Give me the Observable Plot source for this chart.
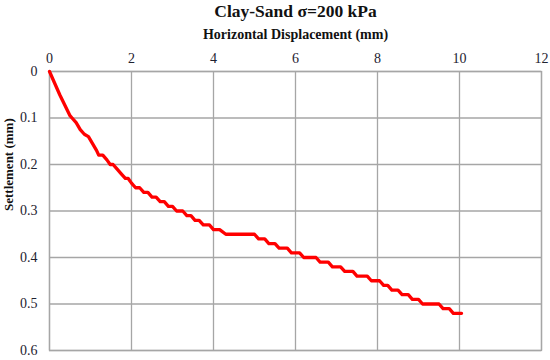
<!DOCTYPE html>
<html><head><meta charset="utf-8">
<script src="https://cdn.jsdelivr.net/npm/d3@7"></script>
<script src="https://cdn.jsdelivr.net/npm/@observablehq/plot@0.6"></script>
<style>body{margin:0;background:#fff;} svg{display:block;}</style>
</head><body><div id="chart"></div>
<script>
const title = "Clay-Sand σ=200 kPa";
const xLabel = "Horizontal Displacement (mm)";
const yLabel = "Settlement (mm)";
const xTicks = [0, 2, 4, 6, 8, 10, 12];
const yTicks = [0, 0.1, 0.2, 0.3, 0.4, 0.5, 0.6];
const displacement = [0,0.25,0.5,0.55,0.65,0.75,0.85,0.95,1.05,1.15,1.2,1.3,1.4,1.48,1.55,1.65,1.75,1.85,1.92,2.0,2.1,2.2,2.3,2.4,2.5,2.6,2.7,2.8,2.9,3.0,3.1,3.25,3.35,3.45,3.55,3.65,3.75,3.9,4.0,4.15,4.3,5.0,5.1,5.25,5.35,5.5,5.6,5.8,5.9,6.1,6.2,6.5,6.6,6.8,6.9,7.1,7.2,7.4,7.5,7.75,7.85,8.05,8.15,8.25,8.35,8.5,8.6,8.75,8.85,9.0,9.1,9.5,9.6,9.75,9.85,10.05];
const settlement = [0,0.05,0.095,0.10,0.11,0.125,0.135,0.14,0.155,0.17,0.18,0.18,0.19,0.20,0.20,0.21,0.22,0.23,0.23,0.24,0.25,0.25,0.26,0.26,0.27,0.27,0.28,0.28,0.29,0.29,0.30,0.30,0.31,0.31,0.32,0.32,0.33,0.33,0.34,0.34,0.35,0.35,0.36,0.36,0.37,0.37,0.38,0.38,0.39,0.39,0.40,0.40,0.41,0.41,0.42,0.42,0.43,0.43,0.44,0.44,0.45,0.45,0.46,0.46,0.47,0.47,0.48,0.48,0.49,0.49,0.50,0.50,0.51,0.51,0.52,0.52];

const data = displacement.map((x, i) => ({x, y: settlement[i]}));
const font = "'Liberation Serif', 'Times New Roman', serif";
const grid = "#a6a6a6";

const plot = Plot.plot({
  width: 550, height: 360,
  marginTop: 71, marginBottom: 10, marginLeft: 49, marginRight: 9,
  style: {fontFamily: font, fontSize: "14px", color: "#1e2230", background: "#fff"},
  x: {domain: [0, 12]},
  y: {domain: [0, 0.6], reverse: true},
  marks: [
    Plot.gridX(xTicks, {stroke: grid, strokeOpacity: 1, strokeWidth: 1.3}),
    Plot.gridY(yTicks, {stroke: grid, strokeOpacity: 1, strokeWidth: 1.3}),
    Plot.frame({stroke: grid, strokeWidth: 1.3}),
    Plot.axisX(xTicks, {anchor: "top", tickSize: 0, tickPadding: 9, fontSize: 14, label: null}),
    Plot.axisY(yTicks, {anchor: "left", tickSize: 0, tickPadding: 12, fontSize: 14, label: null, tickFormat: d => String(d)}),
    Plot.line(data, {x: "x", y: "y", stroke: "#ff0000", strokeWidth: 3.3, strokeLinejoin: "round", strokeLinecap: "round"}),
    Plot.text([title], {frameAnchor: "top", dy: -67, fontSize: 17.5, fontWeight: "bold", fill: "#111"}),
    Plot.text([xLabel], {frameAnchor: "top", dy: -42, fontSize: 14, fontWeight: "bold", fill: "#111"}),
    Plot.text([yLabel], {frameAnchor: "left", dx: -41, rotate: -90, fontSize: 13, fontWeight: "bold", fill: "#111"})
  ]
});
document.getElementById("chart").append(plot);
</script></body></html>
